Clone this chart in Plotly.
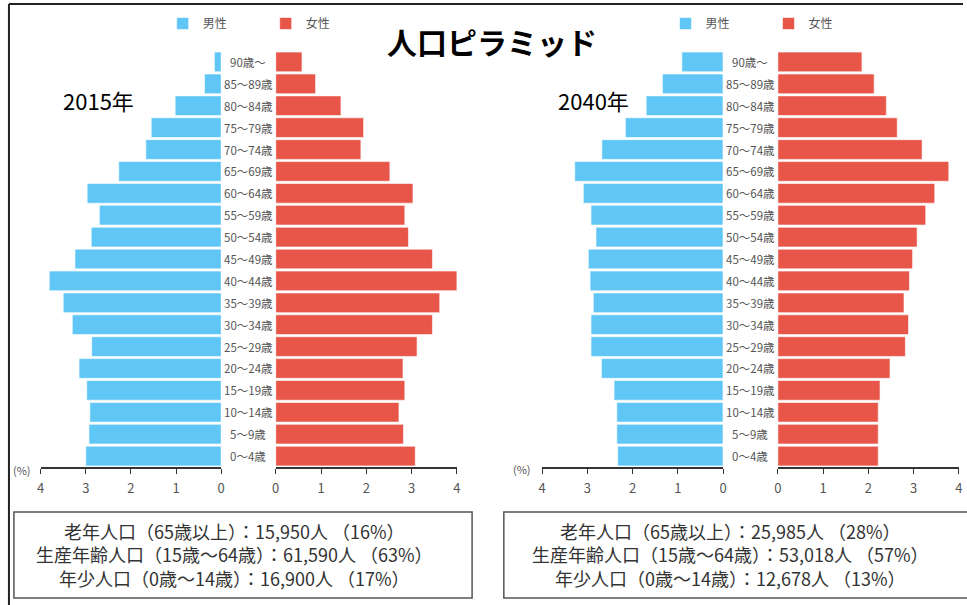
import plotly.graph_objects as go

W, H = 967, 605
def px(x):
    return x / W
def py(y):
    return 1 - y / H

ages = ["0～4歳", "5～9歳", "10～14歳", "15～19歳", "20～24歳", "25～29歳", "30～34歳",
        "35～39歳", "40～44歳", "45～49歳", "50～54歳", "55～59歳", "60～64歳",
        "65～69歳", "70～74歳", "75～79歳", "80～84歳", "85～89歳", "90歳～"]

male_2015 = [3.00, 2.93, 2.91, 2.98, 3.15, 2.87, 3.30, 3.50, 3.81, 3.24, 2.88, 2.70, 2.97,
             2.27, 1.67, 1.55, 1.02, 0.37, 0.15]
female_2015 = [3.08, 2.82, 2.72, 2.85, 2.81, 3.12, 3.46, 3.62, 4.00, 3.46, 2.93, 2.85, 3.03,
               2.52, 1.88, 1.94, 1.44, 0.88, 0.58]
male_2040 = [2.33, 2.35, 2.35, 2.41, 2.69, 2.92, 2.92, 2.87, 2.94, 2.98, 2.81, 2.92, 3.09,
             3.28, 2.68, 2.16, 1.70, 1.34, 0.91]
female_2040 = [2.22, 2.22, 2.22, 2.26, 2.48, 2.82, 2.89, 2.79, 2.91, 2.98, 3.08, 3.27, 3.47,
               3.78, 3.19, 2.64, 2.40, 2.13, 1.86]

ticks = [0, 1, 2, 3, 4]
title_text = "人口ピラミッド"
year_labels = ["2015年", "2040年"]
summary_2015 = ["老年人口（65歳以上）：15,950人 （16%）",
                "生産年齢人口（15歳～64歳）：61,590人 （63%）",
                "年少人口（0歳～14歳）：16,900人 （17%）"]
summary_2040 = ["老年人口（65歳以上）：25,985人 （28%）",
                "生産年齢人口（15歳～64歳）：53,018人 （57%）",
                "年少人口（0歳～14歳）：12,678人 （13%）"]

BLUE = "#5fc6f6"
RED = "#e8564a"
FONT = "Noto Sans CJK JP"

fig = go.Figure()
fig.add_trace(go.Bar(y=ages, x=male_2015, orientation="h", xaxis="x", yaxis="y",
                     name="男性", marker=dict(color=BLUE, line=dict(color="white", width=0.6)),
                     legend="legend"))
fig.add_trace(go.Bar(y=ages, x=female_2015, orientation="h", xaxis="x2", yaxis="y",
                     name="女性", marker=dict(color=RED, line=dict(color="white", width=0.6)),
                     legend="legend"))
fig.add_trace(go.Bar(y=ages, x=male_2040, orientation="h", xaxis="x3", yaxis="y2",
                     name="男性", marker=dict(color=BLUE, line=dict(color="white", width=0.6)),
                     legend="legend2"))
fig.add_trace(go.Bar(y=ages, x=female_2040, orientation="h", xaxis="x4", yaxis="y2",
                     name="女性", marker=dict(color=RED, line=dict(color="white", width=0.6)),
                     legend="legend2"))

xcommon = dict(showline=True, linecolor="#333", linewidth=1.5, ticks="outside", ticklen=5,
               tickcolor="#333", tickwidth=1.2, tickvals=ticks, showgrid=False, zeroline=False,
               tickfont=dict(size=13, color="#555", family=FONT), ticklabelstandoff=4,
               fixedrange=True)
ydom = [py(467), py(51)]
ycommon = dict(domain=ydom, showticklabels=False, showgrid=False, zeroline=False,
               showline=False, ticks="", range=[-0.5, 18.5], categoryorder="array",
               categoryarray=ages, fixedrange=True)

fig.update_layout(
    width=W, height=H,
    margin=dict(l=0, r=0, t=0, b=0),
    paper_bgcolor="white", plot_bgcolor="white",
    barmode="overlay", bargap=0.1,
    font=dict(family=FONT),
    xaxis=dict(domain=[px(37), px(219)], range=[4, 0], anchor="y", **xcommon),
    xaxis2=dict(domain=[px(274), px(456.7)], range=[0, 4], anchor="y", **xcommon),
    xaxis3=dict(domain=[px(542.7), px(725)], range=[4, 0], anchor="y2", **xcommon),
    xaxis4=dict(domain=[px(780.3), px(962.7)], range=[0, 4], anchor="y2", **xcommon),
    yaxis=dict(anchor="x", **ycommon),
    yaxis2=dict(anchor="x3", **ycommon),
    legend=dict(orientation="h", x=px(160), y=py(9), xanchor="left", yanchor="top",
                font=dict(size=12, color="#555", family=FONT), bgcolor="rgba(0,0,0,0)",
                entrywidth=58, entrywidthmode="pixels"),
    legend2=dict(orientation="h", x=px(667), y=py(9), xanchor="left", yanchor="top",
                 font=dict(size=12, color="#555", family=FONT), bgcolor="rgba(0,0,0,0)",
                 entrywidth=58, entrywidthmode="pixels"),
    showlegend=True,
)

def note(x, y, text, size, color, yref="paper"):
    return dict(x=px(x), xref="paper", y=(py(y) if yref == "paper" else y), yref=yref,
                text=text, showarrow=False, xanchor="center", yanchor="middle", align="center",
                font=dict(size=size, color=color, family=FONT))

ann = []
for a in ages:
    ann.append(note(246.5, a, a, 11.5, "#555", yref="y"))
    ann.append(note(752.5, a, a, 11.5, "#555", yref="y2"))
ann.append(note(492, 41, "<b>" + title_text + "</b>", 30, "black"))
ann.append(note(95, 100, year_labels[0], 22, "black"))
ann.append(note(594, 100, year_labels[1], 22, "black"))
ann.append(note(18, 470, "(%)", 11, "#555"))
ann.append(note(522, 469, "(%)", 11, "#555"))
ann.append(note(232, 554, "<br>".join(summary_2015), 18, "#333"))
ann.append(note(733, 554, "<br>".join(summary_2040), 18, "#333"))
fig.update_layout(annotations=ann)

shapes = [
    dict(type="line", xref="paper", yref="paper", x0=px(5), x1=px(967), y0=py(4), y1=py(4),
         line=dict(color="#222", width=2)),
    dict(type="line", xref="paper", yref="paper", x0=px(5), x1=px(5), y0=py(4), y1=py(605),
         line=dict(color="#222", width=2)),
    dict(type="rect", xref="paper", yref="paper", x0=px(10), x1=px(472), y0=py(512), y1=py(598),
         line=dict(color="#555", width=1.5)),
    dict(type="rect", xref="paper", yref="paper", x0=px(504), x1=px(975), y0=py(512), y1=py(598),
         line=dict(color="#555", width=1.5)),
]
fig.update_layout(shapes=shapes)

fig.write_html("out.html", config={"displayModeBar": False},
               post_script="document.body.style.margin='0';document.body.style.overflow='hidden';")
